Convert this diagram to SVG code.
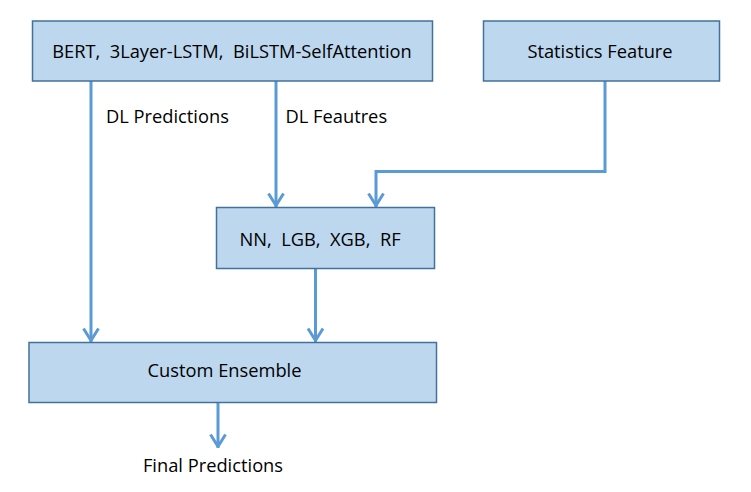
<svg xmlns="http://www.w3.org/2000/svg" width="751" height="492" viewBox="0 0 751 492">
  <style>
    .box { fill: #BDD7EE; stroke: #41719C; stroke-width: 1.5; }
    .lbl { font-family: "Open Sans", "Noto Sans", "DejaVu Sans", sans-serif; font-size: 18.3px; fill: #000; white-space: pre; }
    .conn { fill: none; stroke: #5B9BD5; stroke-width: 3; marker-end: url(#arr); }
  </style>
  <defs>
    <marker id="arr" markerUnits="userSpaceOnUse" viewBox="-16 -10 18 20" markerWidth="18" markerHeight="20" refX="0" refY="0" orient="auto" overflow="visible">
      <path d="M-13.5,-7.5 L-1.5,0 L-13.5,7.5" fill="none" stroke="#5B9BD5" stroke-width="3" stroke-linejoin="round" stroke-linecap="butt"/>
    </marker>
  </defs>
  <rect width="751" height="492" fill="#fff"/>

  <g id="connectors">
    <path class="conn" d="M91,81 V342"/>
    <path class="conn" d="M276,81 V207"/>
    <path class="conn" d="M605,81 V171.5 H376 V207"/>
    <path class="conn" d="M315.5,268 V342"/>
    <path class="conn" d="M218,402 V448"/>
  </g>

  <g id="node-dl">
    <rect class="box" x="32.5" y="21" width="400" height="60"/>
    <text class="lbl" x="232" y="58" text-anchor="middle">BERT,  3Layer-LSTM,  BiLSTM-SelfAttention</text>
  </g>
  <g id="node-stats">
    <rect class="box" x="483.5" y="21" width="236" height="60"/>
    <text class="lbl" x="600" y="58" text-anchor="middle">Statistics Feature</text>
  </g>
  <g id="node-ml">
    <rect class="box" x="216.5" y="207.5" width="218" height="61"/>
    <text class="lbl" x="320" y="246" text-anchor="middle">NN,  LGB,  XGB,  RF</text>
  </g>
  <g id="node-ensemble">
    <rect class="box" x="29" y="342.5" width="407.5" height="60"/>
    <text class="lbl" x="224.5" y="377" text-anchor="middle">Custom Ensemble</text>
  </g>

  <g id="labels">
    <text class="lbl" x="106" y="123">DL Predictions</text>
    <text class="lbl" x="285.5" y="123">DL Feautres</text>
    <text class="lbl" x="213" y="471.5" text-anchor="middle">Final Predictions</text>
  </g>
</svg>
